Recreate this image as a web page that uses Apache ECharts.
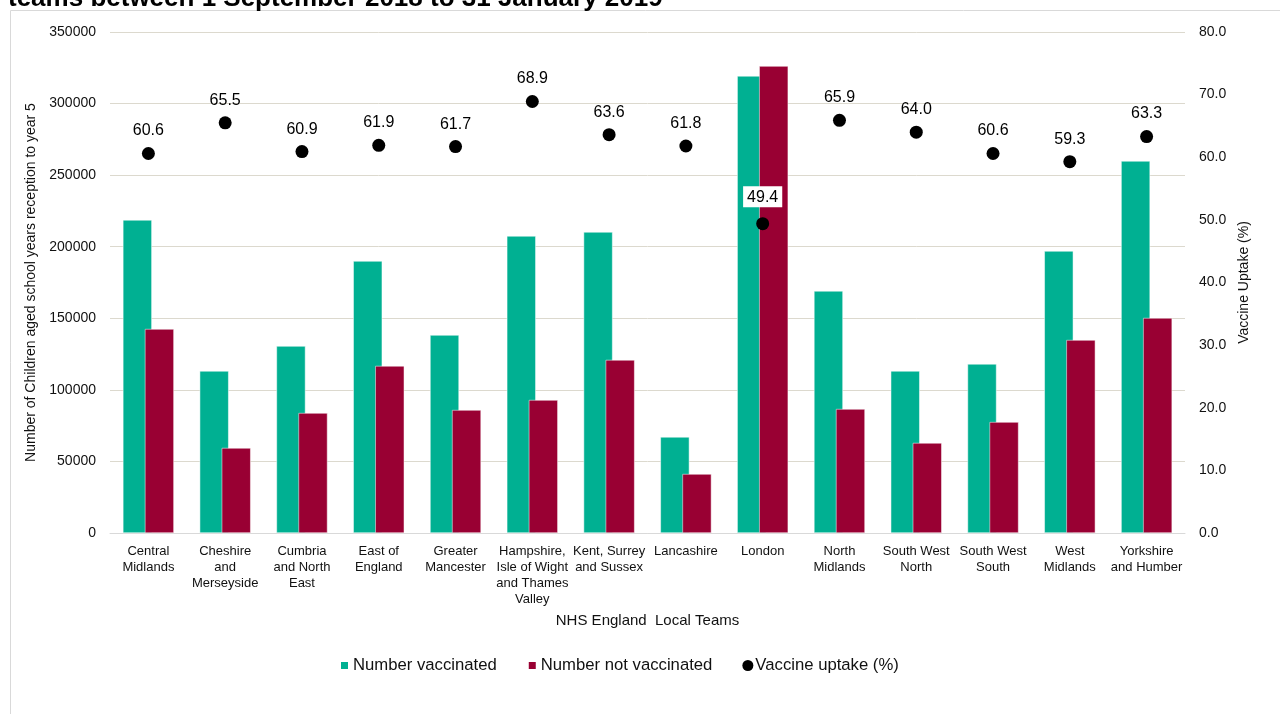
<!DOCTYPE html>
<html><head><meta charset="utf-8">
<script src="https://cdn.jsdelivr.net/npm/echarts@6/dist/echarts.min.js"></script>
<style>html,body{margin:0;padding:0;background:#fff}#c{width:1280px;height:714px}</style>
</head><body><div id="c"></div>
<script>
const categories = ["Central\nMidlands","Cheshire\nand\nMerseyside","Cumbria\nand North\nEast","East of\nEngland","Greater\nMancester","Hampshire,\nIsle of Wight\nand Thames\nValley","Kent, Surrey\nand Sussex","Lancashire","London","North\nMidlands","South West\nNorth","South West\nSouth","West\nMidlands","Yorkshire\nand Humber"];
const vaccinated = [218700,113200,130600,190000,138300,207500,210300,67100,319300,169100,113200,118100,197000,259900];
const notVaccinated = [142500,59400,83800,116700,85900,92900,120900,41200,326200,86600,62900,77500,134800,150200];
const uptake = [60.6,65.5,60.9,61.9,61.7,68.9,63.6,61.8,49.4,65.9,64.0,60.6,59.3,63.3];
const leftTicks = {min:0,max:350000,interval:50000};
const rightTicks = {min:0,max:80,interval:10};

const font = 'Liberation Sans, Arial, sans-serif';
const smallSquare = 'path://M0,0M11,11M0,1h9v9h-9z';
const chart = echarts.init(document.getElementById('c'));
chart.setOption({
  animation:false,
  textStyle:{fontFamily:font},
  graphic:[
    {type:'rect',shape:{x:10.5,y:10.5,width:1300,height:720},style:{fill:null,stroke:'#d9d9d9',lineWidth:1}},
    {type:'text',left:8,top:-14,style:{text:'teams between 1 September 2018 to 31 January 2019',font:'bold 26px '+font,fill:'#000'}}
  ],
  grid:{left:110,right:95,top:32,bottom:181},
  legend:{bottom:35,left:334,itemWidth:11,itemHeight:11,itemGap:30,
    textStyle:{fontSize:16.7,color:'#111',fontFamily:font,padding:[0,0,0,-3]},
    data:[{name:'Number vaccinated',icon:smallSquare},{name:'Number not vaccinated',icon:smallSquare},{name:'Vaccine uptake (%)',icon:'circle'}]},
  xAxis:{type:'category',data:categories,
    name:'NHS England  Local Teams',nameLocation:'middle',nameGap:80,
    nameTextStyle:{fontSize:15,color:'#111',fontFamily:font},
    axisLine:{lineStyle:{color:'#d9d9d9',width:1}},axisTick:{show:false},
    axisLabel:{interval:0,fontSize:13,color:'#111',lineHeight:16,margin:10,fontFamily:font}},
  yAxis:[
    {type:'value',min:leftTicks.min,max:leftTicks.max,interval:leftTicks.interval,
     name:'Number of Children aged school years reception to year 5',nameLocation:'middle',nameGap:66,
     nameTextStyle:{fontSize:14,color:'#111',fontFamily:font},
     axisLine:{show:false},axisTick:{show:false},
     axisLabel:{fontSize:14,color:'#111',margin:14,formatter:v=>String(v),fontFamily:font},
     splitLine:{lineStyle:{color:'#dcd9ce',width:1}}},
    {type:'value',min:rightTicks.min,max:rightTicks.max,interval:rightTicks.interval,
     name:'Vaccine Uptake (%)',nameLocation:'middle',nameGap:41,
     nameTextStyle:{fontSize:14,color:'#111',fontFamily:font},
     axisLine:{show:false},axisTick:{show:false},
     axisLabel:{fontSize:14,color:'#111',margin:14,formatter:v=>v.toFixed(1),fontFamily:font},
     splitLine:{show:false}}
  ],
  series:[
    {name:'Number vaccinated',type:'bar',data:vaccinated,barWidth:29,barGap:'-24%',
     itemStyle:{color:'#00b092',borderColor:'#fff',borderWidth:0.5}},
    {name:'Number not vaccinated',type:'bar',data:notVaccinated,barWidth:29,barGap:'-24%',
     itemStyle:{color:'#990033',borderColor:'#fff',borderWidth:0.5}},
    {name:'Vaccine uptake (%)',type:'scatter',yAxisIndex:1,data:uptake.map((v,i)=>{
        const d={value:v};
        if(categories[i]==='London'){d.label={backgroundColor:'#fff',padding:[3,4,2,4],distance:10};}
        return d;}),
     symbolSize:13,itemStyle:{color:'#000',opacity:1},z:5,
     label:{show:true,position:'top',distance:8,fontSize:16,color:'#000',fontFamily:font,formatter:p=>p.value.toFixed(1)}}
  ]
});
</script></body></html>
